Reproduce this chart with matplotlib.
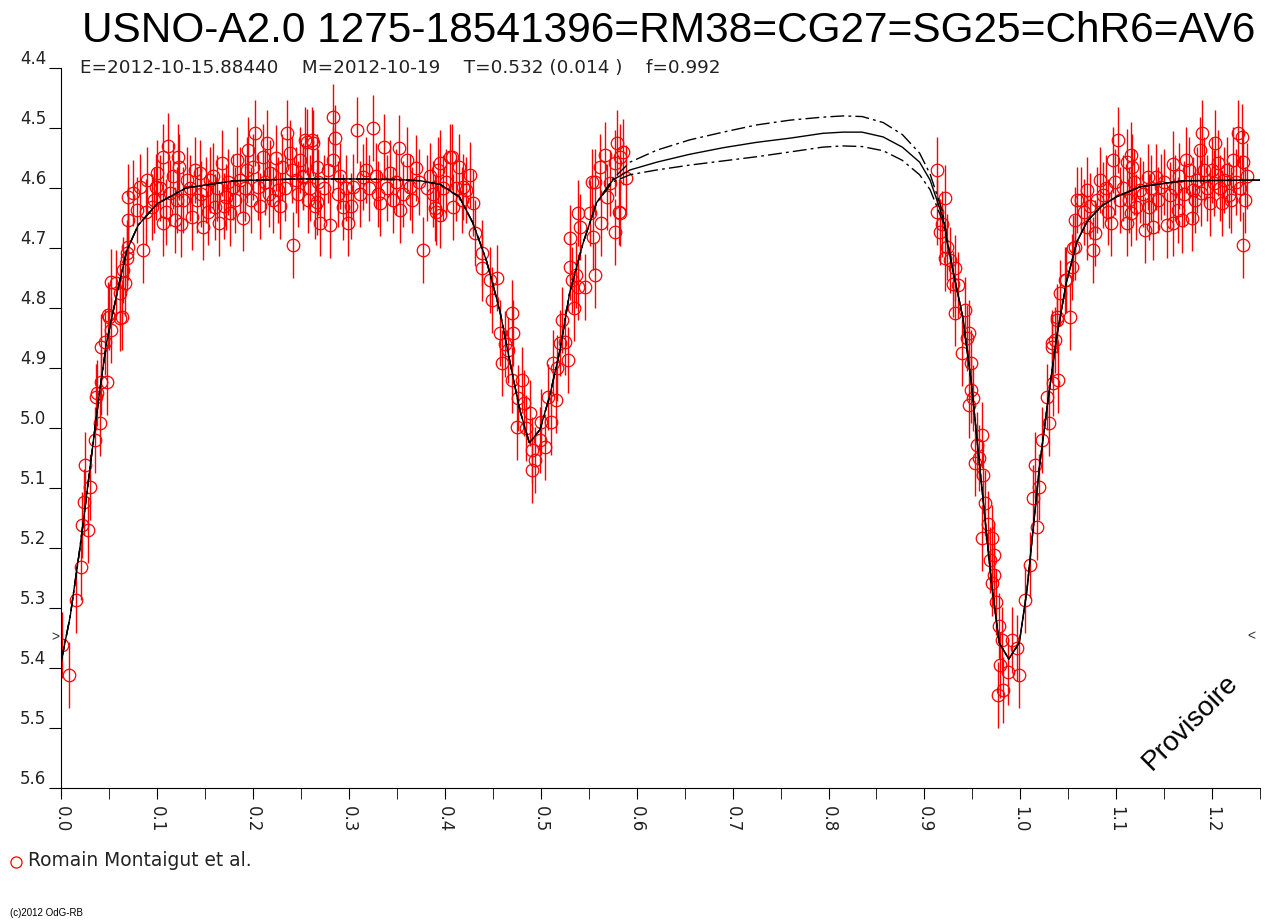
import matplotlib
matplotlib.use('Agg')
import matplotlib.pyplot as plt
from matplotlib.lines import Line2D

plt.rcParams['font.family'] = ['Liberation Sans', 'DejaVu Sans']

title = 'USNO-A2.0 1275-18541396=RM38=CG27=SG25=ChR6=AV6'
subtitle = 'E=2012-10-15.88440    M=2012-10-19    T=0.532 (0.014 )    f=0.992'
observer = 'Romain Montaigut et al.'

# model light curve: fit and upper / lower envelope
model_phase = [0.000, 0.009, 0.019, 0.026, 0.033, 0.040, 0.047, 0.058, 0.068, 0.080,
               0.100, 0.130, 0.180, 0.250, 0.300, 0.350, 0.374, 0.395, 0.415, 0.429,
               0.443, 0.457, 0.468, 0.478, 0.488, 0.499, 0.509, 0.520, 0.530, 0.544,
               0.558, 0.575, 0.593, 0.621, 0.655, 0.690, 0.725, 0.760, 0.794, 0.815,
               0.835, 0.857, 0.877, 0.895, 0.906, 0.919, 0.929, 0.940, 0.949, 0.956,
               0.963, 0.970, 0.978, 0.988, 0.999, 1.007, 1.013, 1.020, 1.029, 1.038,
               1.048, 1.059, 1.070, 1.085, 1.100, 1.125, 1.170, 1.250]
model_fit = [5.387, 5.315, 5.203, 5.115, 5.025, 4.937, 4.858, 4.775, 4.705, 4.662,
             4.626, 4.600, 4.588, 4.585, 4.585, 4.586, 4.588, 4.594, 4.615, 4.658,
             4.720, 4.803, 4.892, 4.970, 5.025, 5.003, 4.948, 4.870, 4.775, 4.692,
             4.625, 4.587, 4.570, 4.557, 4.544, 4.533, 4.524, 4.517, 4.509, 4.507,
             4.507, 4.515, 4.532, 4.557, 4.587, 4.648, 4.732, 4.815, 4.925, 5.037,
             5.148, 5.258, 5.358, 5.385, 5.358, 5.270, 5.175, 5.065, 4.953, 4.848,
             4.758, 4.690, 4.655, 4.630, 4.615, 4.598, 4.588, 4.587]
# envelopes only differ from the fit between phase 0.575 and 0.919
gap_hi = [4.585, 4.557, 4.537, 4.520, 4.507, 4.495, 4.487, 4.482, 4.480, 4.481,
          4.491, 4.511, 4.542, 4.577, 4.640]
gap_lo = [4.590, 4.578, 4.570, 4.562, 4.555, 4.548, 4.540, 4.532, 4.530, 4.531,
          4.538, 4.554, 4.578, 4.603, 4.655]
model_hi = model_fit[:31] + gap_hi + model_fit[46:]
model_lo = model_fit[:31] + gap_lo + model_fit[46:]

# observations (phase, magnitude)
phase_egress0 = [0.001, 0.008, 0.015, 0.020, 0.021, 0.028, 0.023, 0.030, 0.025, 0.035,
                 0.040, 0.036, 0.037, 0.041, 0.047, 0.041, 0.045, 0.049, 0.052, 0.050,
                 0.057, 0.061, 0.061, 0.064, 0.063, 0.066, 0.052, 0.068, 0.068, 0.069]
mag_egress0 = [5.362, 5.412, 5.287, 5.232, 5.162, 5.170, 5.123, 5.098, 5.062, 5.020,
               4.992, 4.948, 4.942, 4.923, 4.923, 4.865, 4.857, 4.812, 4.837, 4.815,
               4.758, 4.775, 4.817, 4.737, 4.815, 4.758, 4.757, 4.717, 4.708, 4.653]

phase_max1 = [0.069, 0.069, 0.075, 0.079, 0.082, 0.085, 0.089, 0.094, 0.099, 0.100,
              0.106, 0.106, 0.111, 0.113, 0.118, 0.122, 0.123, 0.127, 0.131, 0.136,
              0.141, 0.144, 0.148, 0.151, 0.155, 0.160, 0.164, 0.167, 0.172, 0.176,
              0.179, 0.183, 0.186, 0.189, 0.195, 0.200, 0.202, 0.205, 0.210, 0.214,
              0.218, 0.221, 0.226, 0.230, 0.235, 0.238, 0.242, 0.245, 0.249, 0.254,
              0.257, 0.261, 0.266, 0.270,
              0.088, 0.097, 0.103, 0.109, 0.116, 0.120, 0.125, 0.134, 0.139, 0.146,
              0.153, 0.158, 0.162, 0.170, 0.174, 0.181, 0.191, 0.193, 0.198, 0.207,
              0.212, 0.216, 0.224, 0.228, 0.233, 0.240, 0.247, 0.252, 0.259, 0.264,
              0.268]
mag_max1 = [4.698, 4.615, 4.608, 4.637, 4.598, 4.703, 4.587, 4.632, 4.598, 4.575,
            4.658, 4.548, 4.530, 4.608, 4.653, 4.548, 4.565, 4.620, 4.587, 4.648,
            4.620, 4.575, 4.665, 4.603, 4.587, 4.632, 4.658, 4.558, 4.615, 4.642,
            4.598, 4.553, 4.587, 4.650, 4.537, 4.565, 4.508, 4.598, 4.548, 4.525,
            4.575, 4.620, 4.603, 4.565, 4.508, 4.542, 4.695, 4.587, 4.553, 4.520,
            4.620, 4.520, 4.565, 4.658,
            4.640, 4.620, 4.600, 4.640, 4.580, 4.620, 4.660, 4.600, 4.570, 4.610,
            4.640, 4.580, 4.600, 4.630, 4.590, 4.620, 4.600, 4.570, 4.620, 4.630,
            4.590, 4.610, 4.550, 4.630, 4.600, 4.570, 4.610, 4.580, 4.600, 4.630,
            4.590]

phase_max2 = [0.252, 0.256, 0.262, 0.266, 0.280, 0.283, 0.285, 0.283, 0.294, 0.299,
              0.304, 0.308, 0.315, 0.318, 0.325, 0.332, 0.336, 0.343, 0.352, 0.353,
              0.360, 0.363, 0.370, 0.377, 0.390, 0.395, 0.405, 0.408, 0.415, 0.422,
              0.274, 0.278, 0.288, 0.291, 0.297, 0.302, 0.311, 0.321, 0.328, 0.330,
              0.339, 0.346, 0.349, 0.356, 0.366, 0.373, 0.381, 0.384, 0.387, 0.393,
              0.398, 0.401, 0.411, 0.418]
mag_max2 = [4.582, 4.523, 4.525, 4.623, 4.662, 4.482, 4.517, 4.553, 4.632, 4.658,
            4.598, 4.503, 4.582, 4.570, 4.500, 4.625, 4.532, 4.575, 4.533, 4.637,
            4.553, 4.598, 4.567, 4.703, 4.633, 4.645, 4.548, 4.632, 4.565, 4.603,
            4.600, 4.570, 4.610, 4.580, 4.600, 4.630, 4.610, 4.600, 4.580, 4.610,
            4.600, 4.620, 4.590, 4.610, 4.620, 4.590, 4.600, 4.580, 4.610, 4.570,
            4.600, 4.590, 4.600, 4.620]

phase_sec = [0.391, 0.395, 0.407, 0.419, 0.426, 0.429, 0.431, 0.439, 0.439, 0.447,
             0.454, 0.449, 0.457, 0.470, 0.459, 0.466, 0.471, 0.470, 0.480, 0.475,
             0.482, 0.489, 0.491, 0.494, 0.499, 0.504, 0.511, 0.507, 0.516, 0.513,
             0.520, 0.525, 0.522, 0.528, 0.532, 0.537, 0.530, 0.539, 0.546, 0.530,
             0.556, 0.541, 0.554, 0.539, 0.551, 0.563, 0.577, 0.583, 0.569, 0.553,
             0.572, 0.562, 0.583, 0.589, 0.577, 0.579, 0.567, 0.586, 0.582, 0.556,
             0.491, 0.485, 0.463, 0.476, 0.500, 0.517, 0.535]
mag_sec = [4.640, 4.558, 4.548, 4.598, 4.578, 4.625, 4.675, 4.708, 4.733, 4.753,
           4.750, 4.787, 4.842, 4.808, 4.892, 4.870, 4.842, 4.920, 4.920, 4.998,
           4.958, 4.975, 5.037, 5.053, 5.020, 5.032, 4.990, 4.948, 4.953, 4.892,
           4.858, 4.857, 4.820, 4.887, 4.753, 4.745, 4.732, 4.765, 4.765, 4.683,
           4.745, 4.665, 4.682, 4.642, 4.642, 4.658, 4.673, 4.642, 4.615, 4.590,
           4.592, 4.565, 4.548, 4.583, 4.558, 4.525, 4.545, 4.540, 4.640, 4.590,
           5.070, 5.000, 4.860, 4.950, 4.990, 4.900, 4.800]

phase_prim = [0.913, 0.921, 0.913, 0.916, 0.924, 0.921, 0.932, 0.935, 0.932, 0.942,
              0.947, 0.939, 0.949, 0.949, 0.947, 0.960, 0.955, 0.953, 0.961, 0.963,
              0.960, 0.971, 0.973, 0.973, 0.971, 0.981, 0.979, 0.982, 0.977, 0.987,
              0.991, 0.997, 0.999,
              0.918, 0.927, 0.930, 0.944, 0.951, 0.957, 0.966, 0.968, 0.975, 0.978,
              1.005, 1.010, 1.017, 1.013, 1.020, 1.015, 1.023, 1.030, 1.028, 1.034,
              1.039, 1.033, 1.036, 1.038, 1.052, 1.041, 1.048, 1.055, 1.057, 1.059,
              1.033, 1.038, 1.047, 1.054, 1.057]
mag_prim = [4.570, 4.617, 4.640, 4.673, 4.698, 4.717, 4.733, 4.762, 4.808, 4.803,
            4.842, 4.875, 4.892, 4.937, 4.962, 5.012, 5.028, 5.058, 5.078, 5.125,
            5.183, 5.183, 5.212, 5.245, 5.258, 5.353, 5.395, 5.437, 5.445, 5.407,
            5.353, 5.367, 5.412,
            4.660, 4.720, 4.760, 4.850, 4.950, 5.050, 5.160, 5.220, 5.290, 5.330,
            5.287, 5.228, 5.165, 5.117, 5.098, 5.062, 5.020, 4.992, 4.948, 4.925,
            4.920, 4.865, 4.853, 4.815, 4.815, 4.775, 4.753, 4.700, 4.653, 4.620,
            4.858, 4.820, 4.753, 4.732, 4.698]

phase_max3 = [1.063, 1.076, 1.070, 1.078, 1.070, 1.083, 1.086, 1.097, 1.102, 1.095,
              1.104, 1.111, 1.116, 1.117, 1.111, 1.121, 1.125, 1.130, 1.133, 1.138,
              1.142, 1.147, 1.153, 1.156, 1.159, 1.164, 1.169, 1.173, 1.179, 1.184,
              1.187, 1.190, 1.192, 1.198, 1.203, 1.206, 1.210, 1.213, 1.218, 1.222,
              1.227, 1.231, 1.232, 1.234, 1.232, 1.189, 1.159, 1.202, 1.180, 1.134,
              1.116,
              1.066, 1.073, 1.080, 1.089, 1.092, 1.099, 1.107, 1.113, 1.119, 1.128,
              1.136, 1.144, 1.150, 1.161, 1.166, 1.171, 1.176, 1.182, 1.195, 1.200,
              1.208, 1.216, 1.220, 1.225, 1.229, 1.236]
mag_max3 = [4.620, 4.703, 4.665, 4.675, 4.603, 4.587, 4.612, 4.553, 4.520, 4.658,
            4.620, 4.557, 4.545, 4.565, 4.658, 4.632, 4.603, 4.670, 4.582, 4.665,
            4.582, 4.598, 4.662, 4.612, 4.560, 4.637, 4.653, 4.553, 4.650, 4.587,
            4.537, 4.508, 4.570, 4.625, 4.525, 4.558, 4.625, 4.587, 4.612, 4.553,
            4.508, 4.515, 4.557, 4.620, 4.695, 4.608, 4.658, 4.592, 4.603, 4.632,
            4.642,
            4.640, 4.630, 4.620, 4.600, 4.640, 4.590, 4.600, 4.620, 4.590, 4.610,
            4.600, 4.620, 4.590, 4.600, 4.580, 4.610, 4.570, 4.620, 4.600, 4.570,
            4.600, 4.570, 4.620, 4.590, 4.600, 4.580]

mag_err = 0.055

phase = phase_egress0 + phase_max1 + phase_max2 + phase_sec + phase_prim + phase_max3
mag = mag_egress0 + mag_max1 + mag_max2 + mag_sec + mag_prim + mag_max3

small = ['DejaVu Sans']

fig = plt.figure(figsize=(12.7, 9.23), dpi=100)
ax = fig.add_axes([0.0484, 0.1463, 0.9437, 0.7801])

ax.errorbar(phase, mag, yerr=mag_err, fmt='o', mfc='none', mec='red', ecolor='red',
            ms=9, mew=0.9, elinewidth=1.0, capsize=0, zorder=2)

ax.plot(model_phase, model_hi, color='black', lw=1.0, ls=(0, (10, 3, 2, 3)), zorder=3)
ax.plot(model_phase, model_lo, color='black', lw=1.0, ls=(0, (10, 3, 2, 3)), zorder=3)
ax.plot(model_phase, model_fit, color='black', lw=1.0, zorder=4)

ax.set_xlim(0, 1.25)
ax.set_ylim(5.6, 4.4)
ax.spines['top'].set_visible(False)
ax.spines['right'].set_visible(False)

yt = [4.4, 4.5, 4.6, 4.7, 4.8, 4.9, 5.0, 5.1, 5.2, 5.3, 5.4, 5.5, 5.6]
ax.set_yticks(yt, ['%.1f' % v for v in yt])
xt = [0.0, 0.1, 0.2, 0.3, 0.4, 0.5, 0.6, 0.7, 0.8, 0.9, 1.0, 1.1, 1.2]
ax.set_xticks(xt, ['%.1f' % v for v in xt], rotation=-90)
ax.set_xticks([0.05 + 0.1 * i for i in range(13)], minor=True)
ax.tick_params(axis='y', length=9, pad=2, labelsize=12, labelcolor='#222222')
ax.tick_params(axis='x', which='both', length=8, pad=5, labelsize=12, labelcolor='#222222')
for lab in ax.get_yticklabels():
    lab.set_verticalalignment('bottom')
    lab.set_family(small)
for lab in ax.get_xticklabels():
    lab.set_family(small)

fig.text(1255 / 1270, 1 - 31 / 923, title, ha='right', va='center', fontsize=30.5)
fig.text(80 / 1270, 1 - 68 / 923, subtitle, ha='left', va='center', fontsize=13.2,
         color='#222222', family=small)
fig.text(1190 / 1270, 1 - 722 / 923, 'Provisoire', rotation=45, ha='center',
         va='center', fontsize=20)
fig.text(55 / 1270, 1 - 637 / 923, '>', ha='center', va='center', fontsize=10, color='#333333')
fig.text(1251 / 1270, 1 - 636 / 923, '<', ha='center', va='center', fontsize=10, color='#333333')

fig.add_artist(Line2D([16 / 1270], [1 - 862 / 923], marker='o', mfc='none', mec='red',
                      ms=8, mew=0.9, transform=fig.transFigure))
fig.text(28 / 1270, 1 - 861 / 923, observer, ha='left', va='center', fontsize=13.4,
         color='#222222', family=small)
fig.text(10 / 1270, 1 - 913 / 923, '(c)2012 OdG-RB', ha='left', va='center', fontsize=7)

fig.savefig('out.png', dpi=100)
